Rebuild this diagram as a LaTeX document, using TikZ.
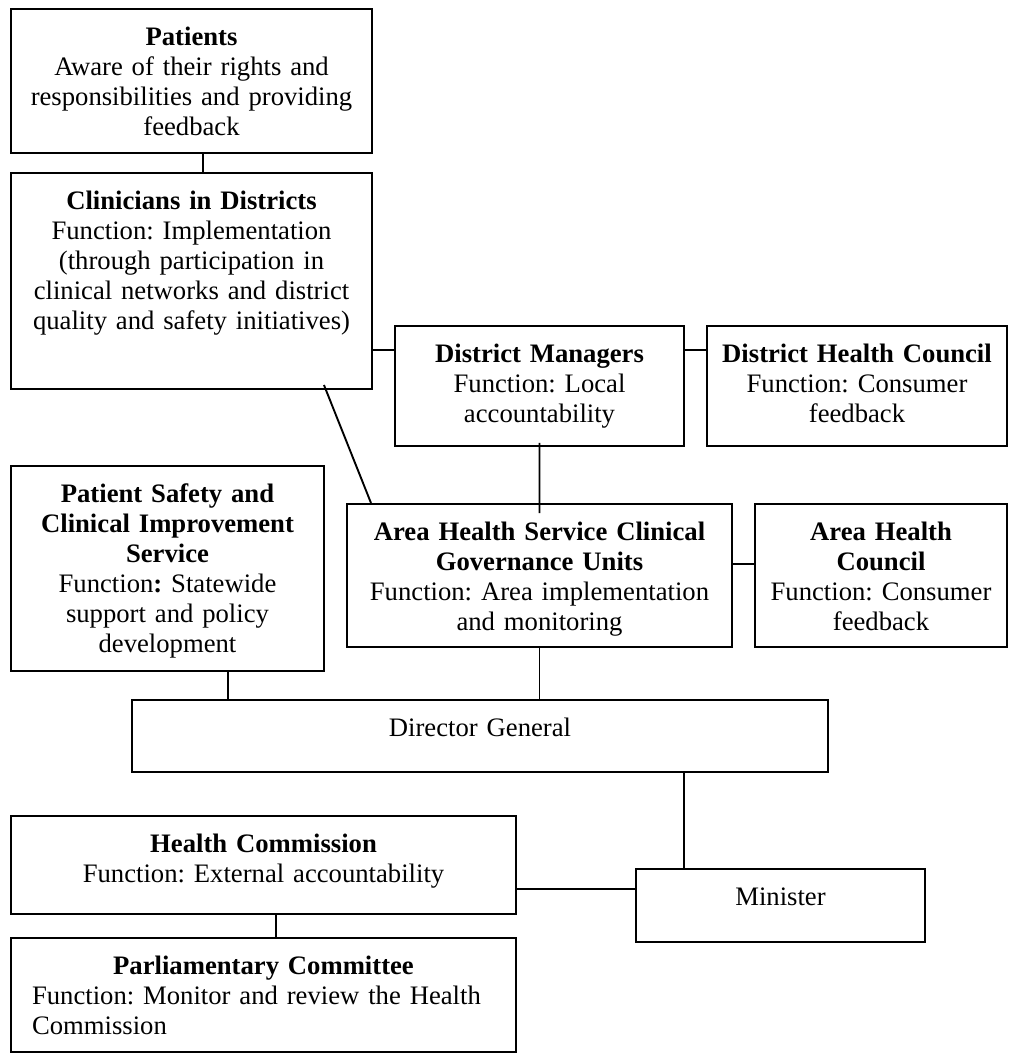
\documentclass[tikz,border=0pt]{standalone}
\usepackage{fontspec}
\setmainfont{Liberation Serif}
\usepackage{tikz}
\usetikzlibrary{positioning}
\tikzstyle{orgbox} = [draw, line width=0.9pt, anchor=north west, inner sep=0pt, align=center, text height=16.6pt, font=\fontsize{12pt}{13.5pt}\selectfont\frenchspacing]
\tikzstyle{link} = [line width=0.85pt]
\newcommand{\flushline}[1]{\makebox[208.3pt][l]{#1}}

\begin{document}
\begin{tikzpicture}[x=0.45pt, y=-0.45pt]
	\useasboundingbox (0,0) rectangle (1009,1054);
	% boxes
	\node[orgbox, text width=162.45pt, text depth=48.2pt] (pat) at (10,8) {\textbf{Patients}\\Aware of their rights and\\responsibilities and providing\\feedback};
	\node[orgbox, text width=162.45pt, text depth=80.6pt] (clin) at (10,172) {\textbf{Clinicians in Districts}\\Function: Implementation\\(through participation in\\clinical networks and district\\quality and safety initiatives)};
	\node[orgbox, text width=130.05pt, text depth=37.4pt] (dm) at (394,325) {\textbf{District Managers}\\Function: Local\\accountability};
	\node[orgbox, text width=135pt, text depth=37.4pt] (dhc) at (706,325) {\textbf{District Health Council}\\Function: Consumer\\feedback};
	\node[orgbox, text width=140.85pt, text depth=75.65pt] (ps) at (10,465) {\textbf{Patient Safety and}\\\textbf{Clinical Improvement}\\\textbf{Service}\\Function\textbf{:} Statewide\\support and policy\\development};
	\node[orgbox, text width=173.25pt, text depth=47.75pt] (ahs) at (346,503) {\textbf{Area Health Service Clinical}\\\textbf{Governance Units}\\Function: Area implementation\\and monitoring};
	\node[orgbox, text width=113.4pt, text depth=47.75pt] (ahc) at (754,503) {\textbf{Area Health}\\\textbf{Council}\\Function: Consumer\\feedback};
	\node[orgbox, text width=313.2pt, text depth=15.8pt] (dg) at (131,699) {Director General};
	\node[orgbox, text width=227.25pt, text depth=27.5pt] (hc) at (10,815) {\textbf{Health Commission}\\Function: External accountability};
	\node[orgbox, text width=130.05pt, text depth=16.25pt] (min) at (635,868) {Minister};
	\node[orgbox, text width=227.25pt, text depth=34.7pt] (pc) at (10,937) {\textbf{Parliamentary Committee}\\\flushline{Function: Monitor and review the Health}\\\flushline{Commission}};
	% connectors
	\draw[link] ([xshift=5.2pt]pat.south) -- ([xshift=5.2pt]clin.north);
	\draw[link] ([yshift=16.2pt]dm.west) -- ([yshift=16.2pt]dm.west -| clin.east);
	\draw[link] ([yshift=16.2pt]dm.east) -- ([yshift=16.2pt]dm.east -| dhc.west);
	\draw[link] ([xshift=59.6pt, yshift=2.25pt]clin.south) -- ([xshift=11.25pt]ahs.north west);
	\draw[link] ([yshift=1.8pt]dm.south) -- ([yshift=-4.5pt]ahs.north);
	\draw[link] ([yshift=5.2pt]ahs.east) -- ([yshift=5.2pt]ahs.east -| ahc.west);
	\draw[link] ([xshift=27.2pt]ps.south) -- ([xshift=27.2pt]ps.south |- dg.north);
	\draw[link] (ahs.south) -- (ahs.south |- dg.north);
	\draw[link] ([xshift=91.8pt]dg.south) -- ([xshift=91.8pt]dg.south |- min.north);
	\draw[link] ([yshift=7.4pt]min.west) -- ([yshift=7.4pt]min.west -| hc.east);
	\draw[link] ([xshift=5.6pt]hc.south) -- ([xshift=5.6pt]pc.north);
\end{tikzpicture}
\end{document}
